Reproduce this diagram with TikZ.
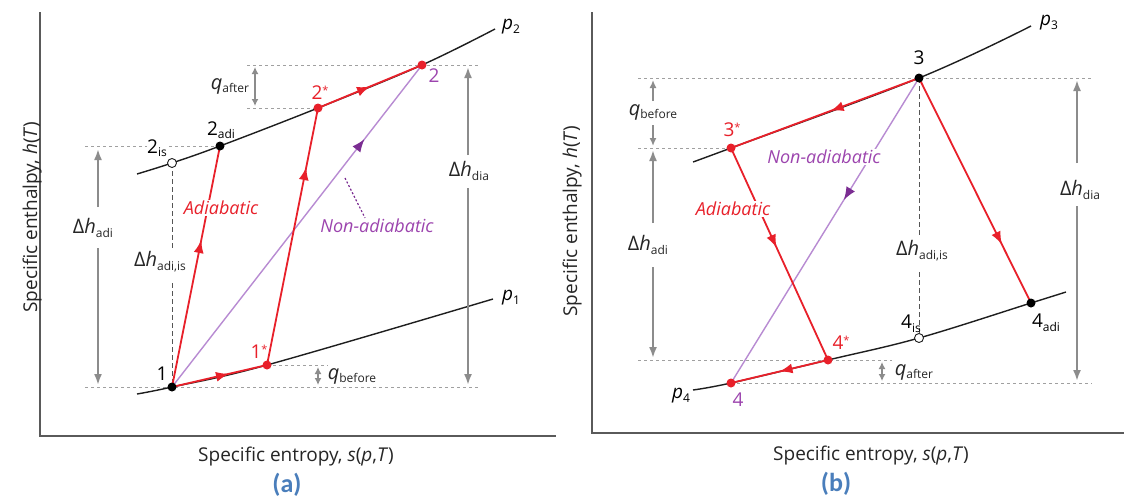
\documentclass[tikz,border=0pt]{standalone}
\usepackage{fontspec}
\setmainfont{Open Sans}
\newfontfamily\capfont{Carlito}
\usetikzlibrary{arrows.meta,decorations.markings}
\definecolor{myred}{HTML}{E8202A}
\definecolor{mypurple}{HTML}{B88BD2}
\definecolor{txtpurple}{HTML}{9C44AE}
\definecolor{headpurple}{HTML}{7B2D92}
\definecolor{arrgray}{HTML}{8C8C8C}
\definecolor{guidegray}{HTML}{A0A0A0}
\definecolor{vgray}{HTML}{555555}
\definecolor{axgray}{HTML}{5A5A5A}
\definecolor{curveblk}{HTML}{1E1E1E}
\definecolor{capblue}{HTML}{4A7EBB}
\newcommand{\mysub}[1]{\raisebox{-0.35ex}{\fontsize{12}{12}\selectfont #1}}
\newcommand{\myast}{\raisebox{0.5ex}{\fontsize{11}{11}\selectfont *}}
\newcommand{\dH}{Δ\textit{h}}
\begin{document}
\begin{tikzpicture}[x=1pt,y=-1pt,
  axis/.style={draw=axgray,line width=1.5pt},
  isobar/.style={draw=curveblk,line width=1.4pt},
  guide/.style={draw=guidegray,line width=0.9pt,dash pattern=on 3pt off 3pt},
  vguide/.style={draw=vgray,line width=1pt,dash pattern=on 5pt off 3pt},
  redpath/.style={draw=myred,line width=1.8pt},
  purplepath/.style={draw=mypurple,line width=1.4pt},
  midarrow/.style 2 args={postaction={decorate},decoration={markings,
     mark=at position #1 with {\arrow[#2]{Latex[length=13pt,width=10pt]}}}},
  garrow/.style={draw=arrgray,line width=2pt,-{Latex[length=11pt,width=8pt]}},
  dblarrow/.style={draw=arrgray,line width=1.6pt,{Latex[length=7pt,width=7pt]}-{Latex[length=7pt,width=7pt]}},
  blackdot/.style={circle,fill=black,inner sep=0pt,minimum size=9pt},
  reddot/.style={circle,fill=myred,inner sep=0pt,minimum size=9pt},
  opendot/.style={circle,draw=curveblk,fill=white,line width=0.9pt,inner sep=0pt,minimum size=9pt},
  numlbl/.style={inner sep=1pt,font=\fontsize{19}{22}\selectfont},
  redlbl/.style={numlbl,text=myred},
  purlbl/.style={numlbl,text=txtpurple},
  qlbl/.style={inner sep=1pt,font=\fontsize{20}{22}\selectfont,text=black!85},
  italred/.style={inner sep=1pt,font=\fontsize{18}{20}\selectfont\itshape,text=myred,fill=white},
  italpur/.style={inner sep=1pt,font=\fontsize{18}{20}\selectfont\itshape,text=txtpurple},
  axlbl/.style={inner sep=0pt,font=\fontsize{19}{22}\selectfont,text=black!85},
  caplbl/.style={inner sep=0pt,font=\capfont\bfseries\fontsize{26}{28}\selectfont,text=capblue},
  leader/.style={draw=headpurple,line width=1.2pt,dash pattern=on 2pt off 2pt}
]
\useasboundingbox[fill=white] (0,0) rectangle (1124,501);

% ================= panel (a) =================
\draw[axis] (40,12) -- (40,436) -- (556,436);
\node[axlbl,rotate=90,anchor=base] (ya) at (37,217) {Specific enthalpy, \textit{h}(\textit{T})};
\node[axlbl,anchor=base] (xa) at (296,461) {Specific entropy, \textit{s}(\textit{p},\textit{T})};
\node[caplbl] (capa) at (287,485) {(a)};

\coordinate (A1) at (172,387);
\coordinate (A1s) at (267,365);
\coordinate (A2adi) at (220,146);
\coordinate (A2is) at (172,163);
\coordinate (A2s) at (318,108);
\coordinate (A2) at (422,65);

% guide lines
\draw[guide] (247,65) -- (478,65);
\draw[guide] (247,108) -- (A2s);
\draw[guide] (85,146) -- (A2adi);
\draw[guide] (85,387) -- (478,387);
\draw[guide] (A1s) -- (328,365);
\coordinate (AvA) at (172,249);
\coordinate (AvB) at (172,283);
\draw[vguide] (A2is) -- (AvA);
\draw[vguide] (AvB) -- (A1);

% isobars
\draw[isobar] plot[smooth,tension=0.6] coordinates {(137,174) (172,163) (220,146) (318,108) (422,65) (495,29)};
\draw[isobar] plot[smooth,tension=0.6] coordinates {(137,394) (172,387) (267,365) (493,299)};
\node[numlbl] (p2) at (511,27) {\textit{p}\mysub{2}};
\node[numlbl] (p1) at (511,298) {\textit{p}\mysub{1}};

% processes
\draw[purplepath,midarrow={0.77}{headpurple}] (A1) -- (A2);
\draw[redpath,midarrow={0.61}{myred}] (A1) -- (A2adi);
\draw[redpath,midarrow={0.6}{myred}] (A1) -- (A1s);
\draw[redpath,midarrow={0.77}{myred}] (A1s) -- (A2s);
\draw[redpath,midarrow={0.5}{myred}] (A2s) -- (A2);

\node[italred] (adA) at (221,208) {Adiabatic};
\node[italpur] (naA) at (377,226) {Non-adiabatic};
\coordinate (ldA) at (345,178);
\draw[leader] (ldA) -- (naA.north -| 365,0);

% dots
\node[blackdot] (d1) at (A1) {};
\node[reddot] (d1s) at (A1s) {};
\node[blackdot] (d2adi) at (A2adi) {};
\node[opendot] (d2is) at (A2is) {};
\node[reddot] (d2s) at (A2s) {};
\node[reddot] (d2) at (A2) {};

% point labels
\node[numlbl] (l1) at (162,374) {1};
\node[redlbl] (l1s) at (259,352) {1\myast};
\node[numlbl] (l2adi) at (221,130) {2\mysub{adi}};
\node[numlbl,fill=white,inner sep=0.5pt] (l2is) at (157,148) {2\mysub{is}};
\node[redlbl] (l2s) at (320,93) {2\myast};
\node[purlbl] (l2) at (434,76) {2};

% dimension arrows
\node[qlbl] (dhadiA) at (93,228) {\dH\mysub{adi}};
\coordinate (ga1) at (98,207); \coordinate (ga2) at (98,149);
\coordinate (ga3) at (98,248); \coordinate (ga4) at (98,385);
\draw[garrow] (ga1) -- (ga2);
\draw[garrow] (ga3) -- (ga4);
\node[qlbl] (dhisA) at (160,262) {\dH\mysub{adi,is}};
\node[qlbl] (dhdiaA) at (469,171) {\dH\mysub{dia}};
\coordinate (gd1) at (468,155); \coordinate (gd2) at (468,67);
\coordinate (gd3) at (468,188); \coordinate (gd4) at (468,385);
\draw[garrow] (gd1) -- (gd2);
\draw[garrow] (gd3) -- (gd4);
\node[qlbl] (qaA) at (230,86) {\textit{q}\mysub{after}};
\coordinate (qa1) at (255,67); \coordinate (qa2) at (255,106);
\draw[dblarrow] (qa1) -- (qa2);
\node[qlbl] (qbA) at (352,376) {\textit{q}\mysub{before}};
\coordinate (qb1) at (318,367); \coordinate (qb2) at (318,385);
\draw[dblarrow] (qb1) -- (qb2);

% ================= panel (b) =================
\draw[axis] (592,12) -- (592,433) -- (1124,433);
\node[axlbl,rotate=90,anchor=base] (yb) at (577,221) {Specific enthalpy, \textit{h}(\textit{T})};
\node[axlbl,anchor=base] (xb) at (871,460) {Specific entropy, \textit{s}(\textit{p},\textit{T})};
\node[caplbl] (capb) at (836,484) {(b)};

\coordinate (B3) at (919,78);
\coordinate (B3s) at (731,148);
\coordinate (B4) at (731,383);
\coordinate (B4s) at (828,360);
\coordinate (B4is) at (919,338);
\coordinate (B4adi) at (1031,303);

\draw[guide] (638,78) -- (1092,78);
\draw[guide] (638,148) -- (B3s);
\draw[guide] (638,360) -- (892,360);
\draw[guide] (B4) -- (1092,383);
\coordinate (BvA) at (919,236);
\coordinate (BvB) at (919,272);
\draw[vguide] (B3) -- (BvA);
\draw[vguide] (BvB) -- (B4is);

\draw[isobar] plot[smooth,tension=0.6] coordinates {(693,162) (731,148) (919,78) (1031,26)};
\draw[isobar] plot[smooth,tension=0.6] coordinates {(693,390) (731,383) (828,360) (919,338) (1031,303) (1066,292)};
\node[numlbl] (p3) at (1049,23) {\textit{p}\mysub{3}};
\node[numlbl] (p4) at (681,396) {\textit{p}\mysub{4}};

\draw[purplepath,midarrow={0.4}{headpurple}] (B3) -- (B4);
\draw[redpath,midarrow={0.47}{myred}] (B3) -- (B3s);
\draw[redpath,midarrow={0.47}{myred}] (B3s) -- (B4s);
\draw[redpath,midarrow={0.5}{myred}] (B4s) -- (B4);
\draw[redpath,midarrow={0.74}{myred}] (B3) -- (B4adi);

\node[italred] (adB) at (733,209) {Adiabatic};
\node[italpur,fill=white] (naB) at (824,157) {Non-adiabatic};

\node[blackdot] (d3) at (B3) {};
\node[reddot] (d3s) at (B3s) {};
\node[reddot] (d4) at (B4) {};
\node[reddot] (d4s) at (B4s) {};
\node[opendot] (d4is) at (B4is) {};
\node[blackdot] (d4adi) at (B4adi) {};

\node[numlbl] (l3) at (919,58) {3};
\node[redlbl] (l3s) at (732,130) {3\myast};
\node[redlbl] (l4s) at (841,343) {4\myast};
\node[purlbl] (l4) at (738,400) {4};
\node[numlbl] (l4is) at (911,324) {4\mysub{is}};
\node[numlbl] (l4adi) at (1046,323) {4\mysub{adi}};

\node[qlbl] (qbB) at (653,112) {\textit{q}\mysub{before}};
\coordinate (qc1) at (653,101); \coordinate (qc2) at (653,80);
\coordinate (qc3) at (653,125); \coordinate (qc4) at (653,146);
\draw[garrow,-{Latex[length=8pt,width=7pt]}] (qc1) -- (qc2);
\draw[garrow,-{Latex[length=8pt,width=7pt]}] (qc3) -- (qc4);
\node[qlbl] (dhadiB) at (648,245) {\dH\mysub{adi}};
\coordinate (gb1) at (653,223); \coordinate (gb2) at (653,150);
\coordinate (gb3) at (653,267); \coordinate (gb4) at (653,358);
\draw[garrow] (gb1) -- (gb2);
\draw[garrow] (gb3) -- (gb4);
\node[qlbl] (dhisB) at (922,251) {\dH\mysub{adi,is}};
\node[qlbl] (dhdiaB) at (1080,190) {\dH\mysub{dia}};
\coordinate (ge1) at (1077,163); \coordinate (ge2) at (1077,80);
\coordinate (ge3) at (1077,206); \coordinate (ge4) at (1077,381);
\draw[garrow] (ge1) -- (ge2);
\draw[garrow] (ge3) -- (ge4);
\node[qlbl] (qaB) at (914,372) {\textit{q}\mysub{after}};
\coordinate (qd1) at (882,362); \coordinate (qd2) at (882,381);
\draw[dblarrow] (qd1) -- (qd2);
\end{tikzpicture}
\end{document}
